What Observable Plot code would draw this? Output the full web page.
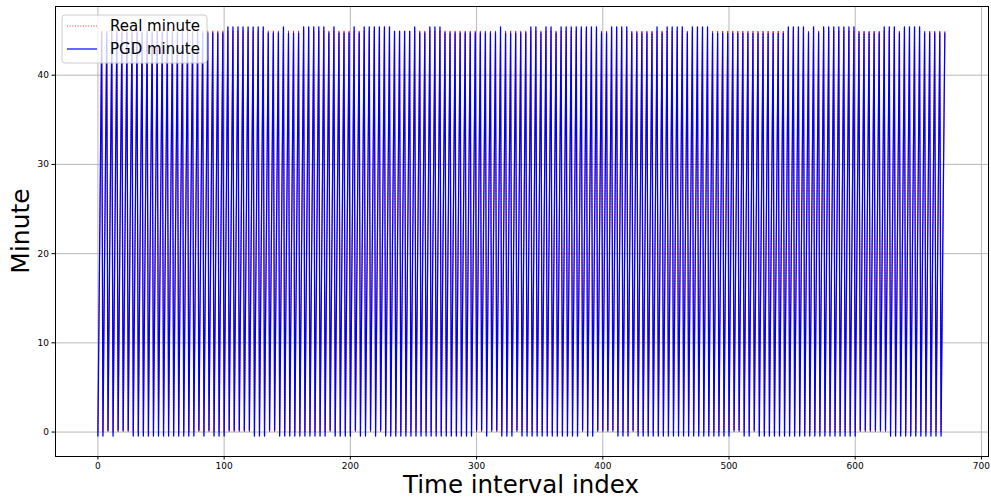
<!DOCTYPE html>
<html>
<head>
<meta charset="utf-8">
<script src="https://cdn.jsdelivr.net/npm/d3@7"></script>
<script src="https://cdn.jsdelivr.net/npm/@observablehq/plot@0.6"></script>
<style>
  html, body { margin: 0; padding: 0; background: #fff; }
  #chart svg { display: block; font-family: "DejaVu Sans", sans-serif; }
</style>
</head>
<body>
<div id="chart"></div>
<script>
// Real minute repeats within each cycle of four time intervals.
const realMinutePattern = [0, 15, 30, 45];
const cycleCount = 168;

// PGD minute at the top of each cycle, as [cycles, minute] runs.
const pgdPeakRuns = [
  [21, 44.75], [4, 44.75], [8, 45.4], [3, 44.75], [1, 45.4], [3, 44.7], [5, 45.4],
  [1, 44.75], [1, 45.4], [3, 44.75], [1, 45.4], [1, 44.75], [6, 45.4], [4, 44.9],
  [1, 45.4], [2, 44.75], [3, 45.4], [11, 44.75], [1, 45.4], [3, 44.7],
  [2, 44.75], [2, 45.4], [1, 44.75], [2, 45.4], [1, 44.75], [8, 45.4], [2, 44.75],
  [4, 45.4], [5, 44.75], [1, 45.4], [1, 44.75], [4, 45.4], [1, 44.75], [4, 45.4],
  [15, 44.7], [4, 45.4], [1, 44.75], [1, 45.4], [1, 44.75], [7, 45.4], [5, 44.75],
  [3, 45.4], [1, 44.75], [4, 45.4], [5, 44.75]
];

// PGD minute at the bottom of each cycle, as [cycles, minute] runs.
const pgdTroughRuns = [
  [2, -0.45], [1, 0.2], [1, -0.45], [3, 0.2], [13, -0.45], [1, 0.2], [1, -0.45],
  [1, 0.2], [3, -0.45], [5, 0.2], [3, -0.45], [2, 0.2], [10, -0.45], [1, 0.2],
  [4, -0.45], [1, 0.2], [2, -0.45], [1, 0.2], [1, -0.45], [1, 0.2], [18, -0.45],
  [2, 0.2], [1, -0.45], [2, 0.2], [3, -0.45], [1, 0.2], [12, -0.45], [1, 0.2],
  [2, -0.45], [4, 0.2], [3, -0.45], [1, 0.2], [19, -0.45], [2, 0.2], [2, -0.45],
  [1, 0.2], [20, -0.45], [6, 0.2], [11, -0.45]
];

const xTicks = [0, 100, 200, 300, 400, 500, 600, 700];
const yTicks = [0, 10, 20, 30, 40];
const seriesNames = ["Real minute", "PGD minute"];
const seriesColors = ["#ff0000", "#0000ff"];

function expandRuns(runs) {
  const out = [];
  for (const [n, v] of runs) for (let i = 0; i < n; i++) out.push(v);
  return out;
}
const pgdPeak = expandRuns(pgdPeakRuns);
const pgdTrough = expandRuns(pgdTroughRuns);

const rows = [];
for (let k = 0; k < cycleCount; k++) {
  for (let j = 0; j < realMinutePattern.length; j++) {
    const real = realMinutePattern[j];
    const pgd = j === 0 ? pgdTrough[k] : j === 3 ? pgdPeak[k] : real;
    rows.push({t: 4 * k + j, real, pgd});
  }
}

const W = 991, H = 499;
const svg = Plot.plot({
  width: W,
  height: H,
  marginLeft: 55,
  marginRight: 3,
  marginTop: 6,
  marginBottom: 43,
  style: {fontFamily: "DejaVu Sans, sans-serif", background: "#fff", color: "#000"},
  x: {domain: [-33.6, 705.6]},
  y: {domain: [-2.74, 47.7]},
  marks: [
    Plot.gridX(xTicks, {stroke: "#b0b0b0", strokeOpacity: 1, strokeWidth: 0.9}),
    Plot.gridY(yTicks, {stroke: "#b0b0b0", strokeOpacity: 1, strokeWidth: 0.9}),
    Plot.lineY(rows, {x: "t", y: "real", stroke: seriesColors[0], strokeWidth: 0.8, strokeDasharray: "1,1.65"}),
    Plot.lineY(rows, {x: "t", y: "pgd", stroke: seriesColors[1], strokeWidth: 1.3}),
    Plot.axisX({ticks: xTicks, tickSize: 3.5, tickPadding: 3, fontSize: 9, label: null}),
    Plot.axisY({ticks: yTicks, tickSize: 3.5, tickPadding: 3, fontSize: 9, label: null}),
    Plot.frame({stroke: "#000", strokeWidth: 1})
  ]
});

const s = d3.select(svg);

// Axis titles
s.append("text")
  .attr("x", 521).attr("y", 493)
  .attr("text-anchor", "middle")
  .attr("font-size", 24.5)
  .attr("fill", "#000")
  .text("Time interval index");
s.append("text")
  .attr("transform", "translate(29,231) rotate(-90)")
  .attr("text-anchor", "middle")
  .attr("font-size", 25)
  .attr("fill", "#000")
  .text("Minute");

// Legend, upper left inside the axes
const lg = s.append("g");
lg.append("rect")
  .attr("x", 62).attr("y", 15).attr("width", 145).attr("height", 48).attr("rx", 3)
  .attr("fill", "#fff").attr("fill-opacity", 0.8)
  .attr("stroke", "#cccccc").attr("stroke-width", 1);
const rowsY = [26, 49];
seriesNames.forEach((name, i) => {
  lg.append("line")
    .attr("x1", 67).attr("x2", 97).attr("y1", rowsY[i]).attr("y2", rowsY[i])
    .attr("stroke", seriesColors[i]).attr("stroke-width", i === 0 ? 0.8 : 1.2)
    .attr("stroke-dasharray", i === 0 ? "1,1.65" : null);
  lg.append("text")
    .attr("x", 110).attr("y", rowsY[i]).attr("dy", "0.36em")
    .attr("text-anchor", "start")
    .attr("font-size", 15).attr("fill", "#000")
    .text(name);
});

document.getElementById("chart").appendChild(svg);
</script>
</body>
</html>
